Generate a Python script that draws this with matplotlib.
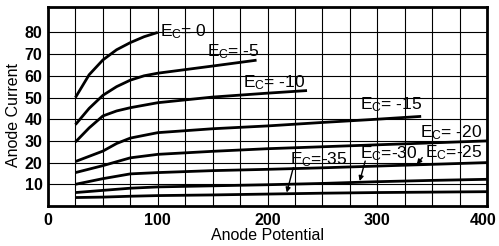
import numpy as np
import matplotlib
matplotlib.use('Agg')
import matplotlib.pyplot as plt
from matplotlib.ticker import MultipleLocator
from matplotlib.transforms import ScaledTranslation

plt.rcParams['font.family'] = ['Liberation Sans', 'DejaVu Sans']
plt.rcParams['mathtext.fontset'] = 'custom'
plt.rcParams['mathtext.rm'] = 'Liberation Sans'
plt.rcParams['mathtext.it'] = 'Liberation Sans'

# anode potential readings for each grid-bias curve
x_ec0 = [25, 37.5, 50, 62.5, 75, 87.5, 100]
y_ec0 = [50, 60.5, 67.3, 72, 75.3, 78, 80]

x_ec5 = [25, 37.5, 50, 62.5, 75, 87.5, 100, 150, 190]
y_ec5 = [37.5, 45, 51, 55, 58, 60, 61.2, 64.5, 67.2]

x_ec10 = [25, 37.5, 50, 62.5, 75, 100, 150, 200, 236]
y_ec10 = [29.5, 36, 41.5, 43.8, 45.3, 47.6, 50.2, 52, 53.2]

x_ec15 = [25, 50, 62.5, 75, 100, 150, 200, 250, 300, 340]
y_ec15 = [20.5, 25.3, 28.8, 31.3, 33.8, 35.6, 36.9, 38.5, 40, 41.3]

x_full = [25, 50, 75, 100, 150, 200, 250, 300, 350, 400]
y_ec20 = [15.4, 18.6, 22.2, 23.8, 25.2, 26.4, 27.3, 28.2, 29.1, 30]
y_ec25 = [10, 12.6, 14.8, 15.4, 16.3, 16.9, 17.6, 18.4, 19.2, 20]
y_ec30 = [6.2, 7.2, 8.2, 8.8, 9.3, 9.8, 10.4, 11.2, 11.8, 12.3]
y_ec35 = [3.9, 4.1, 4.5, 4.8, 5.1, 5.5, 5.9, 6.2, 6.4, 6.6]

x_ticks = [0, 100, 200, 300, 400]
y_ticks = [10, 20, 30, 40, 50, 60, 70, 80]

fig = plt.figure(figsize=(4.99, 2.46), dpi=100)
ax = fig.add_axes([0.0962, 0.1626, 0.8798, 0.8089])

curves = [(x_ec0, y_ec0), (x_ec5, y_ec5), (x_ec10, y_ec10), (x_ec15, y_ec15),
          (x_full, y_ec20), (x_full, y_ec25), (x_full, y_ec30), (x_full, y_ec35)]
for xs, ys in curves:
    ax.plot(xs, ys, color='black', linewidth=2.0, solid_capstyle='butt',
            solid_joinstyle='round', zorder=3)

ax.set_xlim(0, 400)
ax.set_ylim(0, 91.7)
ax.set_xticks(x_ticks)
ax.set_yticks(y_ticks)
ax.xaxis.set_minor_locator(MultipleLocator(25))
ax.grid(True, which='both', axis='x', color='black', linewidth=0.8)
ax.grid(True, which='major', axis='y', color='black', linewidth=0.8)
ax.tick_params(which='both', length=0)
ax.tick_params(axis='x', pad=5, labelsize=11.5)
ax.tick_params(axis='y', pad=4, labelsize=11.5)
for lab in ax.get_xticklabels() + ax.get_yticklabels():
    lab.set_fontweight('bold')
# pull the last x label in a little so it stays inside the picture
last = ax.get_xticklabels()[-1]
last.set_transform(last.get_transform() + ScaledTranslation(-4 / 100, 0, fig.dpi_scale_trans))
for sp in ax.spines.values():
    sp.set_linewidth(2.0)

ax.set_xlabel('Anode Potential', fontsize=11.5, labelpad=0)
ax.set_ylabel('Anode Current', fontsize=11.5)
ax.yaxis.set_label_coords(-0.062, 0.455)

fs = 12.5
ax.text(102, 80.5, r'E$_\mathrm{C}$= 0', fontsize=fs, va='center', ha='left')
ax.text(145, 71.2, r'E$_\mathrm{C}$= -5', fontsize=fs, va='center', ha='left')
ax.text(178, 57, r'E$_\mathrm{C}$= -10', fontsize=fs, va='center', ha='left')
ax.text(284, 46.9, r'E$_\mathrm{C}$= -15', fontsize=fs, va='center', ha='left')
ax.text(339, 33.7, r'E$_\mathrm{C}$= -20', fontsize=fs, va='center', ha='left')

arrow = dict(arrowstyle='-|>', color='black', lw=1.0, mutation_scale=7,
             shrinkA=0, shrinkB=0)
ax.text(343.5, 24.6, r'E$_\mathrm{C}$=-25', fontsize=fs, va='center', ha='left')
ax.annotate('', xy=(336, 19.2), xytext=(341, 22.3), arrowprops=arrow)
ax.text(284, 24.3, r'E$_\mathrm{C}$=-30', fontsize=fs, va='center', ha='left')
ax.annotate('', xy=(284, 11.5), xytext=(289, 20.7), arrowprops=arrow)
ax.text(220.5, 21.5, r'E$_\mathrm{C}$=-35', fontsize=fs, va='center', ha='left')
ax.annotate('', xy=(217.5, 6.2), xytext=(223.5, 17.7), arrowprops=arrow)

fig.savefig('out.png', dpi=100)
